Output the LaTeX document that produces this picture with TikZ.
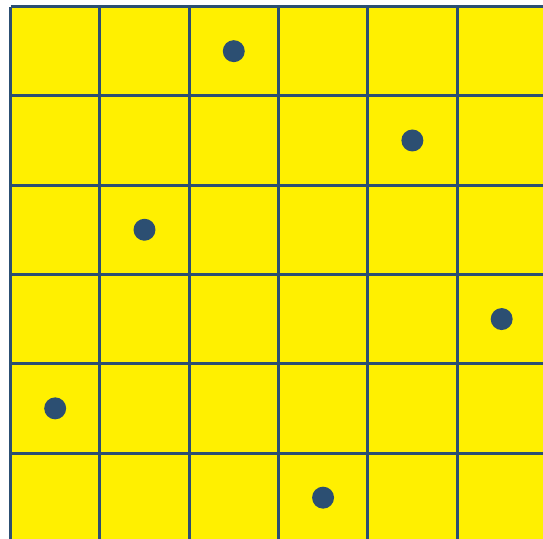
\documentclass[tikz,border=0pt]{standalone}
\usepackage{xcolor}
\usepackage{tikz}
\usetikzlibrary{positioning,calc}
\definecolor{board}{RGB}{255,240,0}
\definecolor{ink}{RGB}{44,79,114}

\begin{document}
\begin{tikzpicture}[
    gridline/.style={draw=ink, line width=0.95pt},
    queen/.style={circle, fill=ink, inner sep=0pt, minimum size=0.246cm},
  ]
  \useasboundingbox (-0.118,0.073) rectangle (5.963,-5.963);
  % Board
  \fill[board] (0,0) rectangle (6,-6);
  \foreach \i in {0,...,6} {
    \draw[gridline] (\i,0) -- (\i,-6);
    \draw[gridline] (0,-\i) -- (6,-\i);
  }

  % Queens (column/row)
  \foreach \c/\r in {2/0, 4/1, 1/2, 5/3, 0/4, 3/5} {
    \node[queen] (q\r) at (\c+0.5,-\r-0.5) {};
  }
\end{tikzpicture}
\end{document}
